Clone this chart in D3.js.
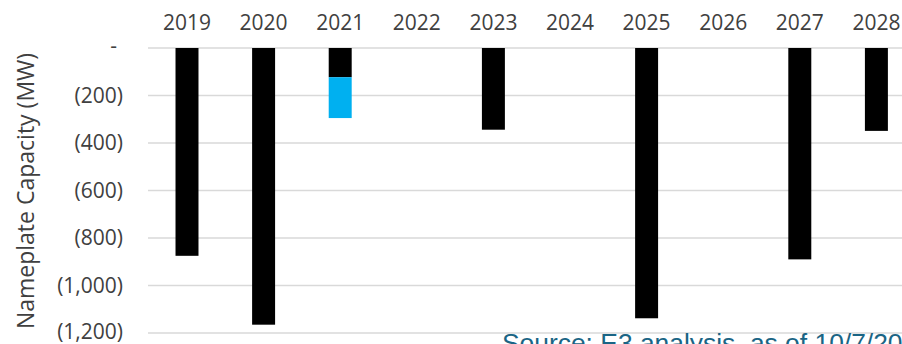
<!DOCTYPE html>
<html>
<head>
<meta charset="utf-8">
<script src="https://cdn.jsdelivr.net/npm/d3@7"></script>
<style>
  html, body { margin: 0; padding: 0; background: #fff; overflow: hidden; }
  svg { display: block; }
</style>
</head>
<body>
<svg id="chart" width="902" height="344"></svg>
<script>
const years = ["2019","2020","2021","2022","2023","2024","2025","2026","2027","2028"];
const retiredBlack = [-875, -1165, -123, 0, -344, 0, -1138, 0, -890, -349];
const retiredBlue  = [0, 0, -172, 0, 0, 0, 0, 0, 0, 0];
const yTicks = [0, -200, -400, -600, -800, -1000, -1200];
const yLabel = "Nameplate Capacity (MW)";
const sourceNote = "Source: E3 analysis, as of 10/7/20";

const svg = d3.select("#chart");
const font = "'Open Sans', sans-serif";
const textColor = "#404040";

const x = d3.scaleBand().domain(years).range([148.7, 914.7]).paddingInner(0.7).paddingOuter(0.35);
const y = d3.scaleLinear().domain([0, -1200]).range([48, 333]);

// gridlines
svg.append("g").selectAll("line").data(yTicks).join("line")
  .attr("x1", 148).attr("x2", 902)
  .attr("y1", d => y(d)).attr("y2", d => y(d))
  .attr("stroke", "#d9d9d9").attr("stroke-width", 1.5);

// y tick labels
const fmt = d => d === 0 ? "-" : "(" + d3.format(",")(Math.abs(d)) + ")";
svg.append("g").selectAll("text").data(yTicks).join("text")
  .attr("x", d => d === 0 ? 117 : 123)
  .attr("y", d => y(d) + (d === 0 ? -2 : (d === -1200 ? -1 : 0)))
  .attr("dy", "0.35em")
  .attr("text-anchor", "end")
  .attr("font-family", font).attr("font-size", 21)
  .attr("fill", textColor)
  .text(fmt);

// year labels on top
svg.append("g").selectAll("text").data(years).join("text")
  .attr("x", d => x(d) + x.bandwidth() / 2)
  .attr("y", 30)
  .attr("text-anchor", "middle")
  .attr("font-family", font).attr("font-size", 21)
  .attr("fill", textColor)
  .text(d => d);

// stacked bars
const stackData = years.map((yr, i) => ({ year: yr, black: retiredBlack[i], blue: retiredBlue[i] }));
const series = d3.stack().keys(["black", "blue"]).offset(d3.stackOffsetDiverging)(stackData);
const colors = { black: "#000000", blue: "#00b0f0" };
svg.append("g").selectAll("g").data(series).join("g")
  .attr("fill", s => colors[s.key])
  .selectAll("rect").data(s => s).join("rect")
  .attr("x", d => x(d.data.year))
  .attr("width", x.bandwidth())
  .attr("y", d => Math.min(y(d[0]), y(d[1])))
  .attr("height", d => Math.abs(y(d[0]) - y(d[1])));

// y axis title
svg.append("text")
  .attr("transform", "translate(34," + 191 + ") rotate(-90)")
  .attr("text-anchor", "middle")
  .attr("font-family", font).attr("font-size", 23)
  .attr("fill", textColor)
  .text(yLabel);

// source note (clipped by the bottom and right edges, as in the reference)
svg.append("text")
  .attr("x", 502).attr("y", 352)
  .attr("font-family", "'Liberation Sans', Arial, sans-serif").attr("font-size", 26.4)
  .attr("fill", "#1a6585")
  .text(sourceNote);
</script>
</body>
</html>
